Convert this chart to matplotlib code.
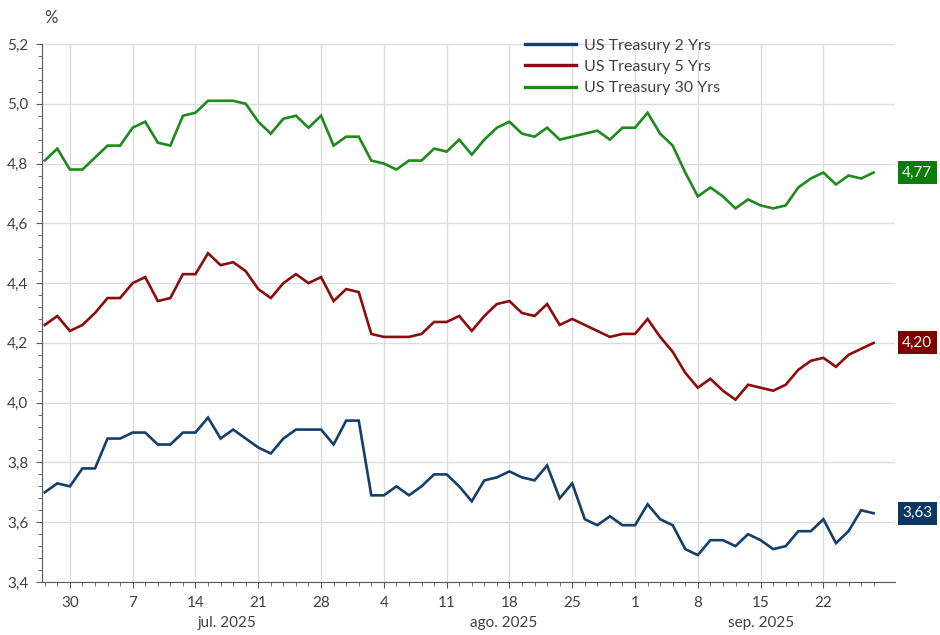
import numpy as np
import pandas as pd
import matplotlib
matplotlib.use("Agg")
import matplotlib.pyplot as plt
import matplotlib.transforms as mtransforms
from matplotlib.ticker import MultipleLocator, FixedLocator, FuncFormatter

plt.rcParams['font.family'] = ['Lato', 'DejaVu Sans']

dates = pd.bdate_range('2025-06-26', '2025-09-26')

ust_2y = [3.70, 3.73, 3.72, 3.78, 3.78, 3.88, 3.88, 3.90, 3.90, 3.86,
          3.86, 3.90, 3.90, 3.95, 3.88, 3.91, 3.88, 3.85, 3.83, 3.88,
          3.91, 3.91, 3.91, 3.86, 3.94, 3.94, 3.69, 3.69, 3.72, 3.69,
          3.72, 3.76, 3.76, 3.72, 3.67, 3.74, 3.75, 3.77, 3.75, 3.74,
          3.79, 3.68, 3.73, 3.61, 3.59, 3.62, 3.59, 3.59, 3.66, 3.61,
          3.59, 3.51, 3.49, 3.54, 3.54, 3.52, 3.56, 3.54, 3.51, 3.52,
          3.57, 3.57, 3.61, 3.53, 3.57, 3.64, 3.63]

ust_5y = [4.26, 4.29, 4.24, 4.26, 4.30, 4.35, 4.35, 4.40, 4.42, 4.34,
          4.35, 4.43, 4.43, 4.50, 4.46, 4.47, 4.44, 4.38, 4.35, 4.40,
          4.43, 4.40, 4.42, 4.34, 4.38, 4.37, 4.23, 4.22, 4.22, 4.22,
          4.23, 4.27, 4.27, 4.29, 4.24, 4.29, 4.33, 4.34, 4.30, 4.29,
          4.33, 4.26, 4.28, 4.26, 4.24, 4.22, 4.23, 4.23, 4.28, 4.22,
          4.17, 4.10, 4.05, 4.08, 4.04, 4.01, 4.06, 4.05, 4.04, 4.06,
          4.11, 4.14, 4.15, 4.12, 4.16, 4.18, 4.20]

ust_30y = [4.81, 4.85, 4.78, 4.78, 4.82, 4.86, 4.86, 4.92, 4.94, 4.87,
           4.86, 4.96, 4.97, 5.01, 5.01, 5.01, 5.00, 4.94, 4.90, 4.95,
           4.96, 4.92, 4.96, 4.86, 4.89, 4.89, 4.81, 4.80, 4.78, 4.81,
           4.81, 4.85, 4.84, 4.88, 4.83, 4.88, 4.92, 4.94, 4.90, 4.89,
           4.92, 4.88, 4.89, 4.90, 4.91, 4.88, 4.92, 4.92, 4.97, 4.90,
           4.86, 4.77, 4.69, 4.72, 4.69, 4.65, 4.68, 4.66, 4.65, 4.66,
           4.72, 4.75, 4.77, 4.73, 4.76, 4.75, 4.77]

series = [
    ('US Treasury 2 Yrs', ust_2y, '#143f6b', '#0d3763'),
    ('US Treasury 5 Yrs', ust_5y, '#8b0d0d', '#800000'),
    ('US Treasury 30 Yrs', ust_30y, '#1d8a1d', '#0b7d0b'),
]

month_names = {7: 'jul.', 8: 'ago.', 9: 'sep.'}

pos = np.arange(len(dates))

fig = plt.figure(figsize=(9.4, 6.35), dpi=100)
ax = fig.add_axes([42 / 940, 1 - 582 / 635, (895 - 42) / 940, (582 - 44) / 635])

for name, vals, col, _ in series:
    ax.plot(pos, vals, color=col, lw=1.9, label=name, solid_joinstyle='miter')

ax.set_ylim(3.4, 5.2)
ax.set_xlim(-0.22, 67.7)

mondays = pos[dates.weekday == 0]
ax.xaxis.set_major_locator(FixedLocator(mondays))
ax.set_xticklabels([str(d.day) for d in dates[dates.weekday == 0]])
ax.xaxis.set_minor_locator(FixedLocator(pos))
ax.yaxis.set_major_locator(MultipleLocator(0.2))
ax.yaxis.set_minor_locator(MultipleLocator(0.04))
ax.yaxis.set_major_formatter(FuncFormatter(lambda v, p: f"{v:.1f}".replace('.', ',')))

ax.grid(True, which='major', color='#dcdcdc', lw=1)
ax.set_axisbelow(True)
for s in ['top', 'right']:
    ax.spines[s].set_visible(False)
for s in ['left', 'bottom']:
    ax.spines[s].set_color('#595959')
ax.tick_params(which='major', length=4, color='#595959', labelsize=11, labelcolor='#404040', pad=6)
ax.tick_params(which='minor', length=3, color='#595959')

# month labels under the day numbers
for m, lab in month_names.items():
    p = pos[dates.month == m]
    c = (p.min() + p.max() + 1) / 2
    ax.text(c, -0.063, f"{lab} {dates[dates.month == m][0].year}", transform=ax.get_xaxis_transform(),
            ha='center', va='top', fontsize=11, color='#404040')

# value boxes at the right end
trans = mtransforms.blended_transform_factory(ax.transAxes, ax.transData)
for name, vals, col, boxcol in series:
    ax.text(1.0085, vals[-1], f"{vals[-1]:.2f}".replace('.', ','), transform=trans,
            ha='left', va='center', fontsize=11, color='white', clip_on=False,
            bbox=dict(boxstyle='square,pad=0.3', fc=boxcol, ec='none'))

fig.text(44 / 940, 1 - 18 / 635, '%', fontsize=12, color='#404040', va='center')

leg = fig.legend(loc='upper left', bbox_to_anchor=(511 / 940, 1 - 24 / 635), frameon=False,
                 fontsize=11.5, handlelength=3.2, labelspacing=0.45, handletextpad=0.5,
                 labelcolor='#404040')
for h in leg.get_lines():
    h.set_linewidth(2.4)

fig.savefig('out.png', dpi=100)
